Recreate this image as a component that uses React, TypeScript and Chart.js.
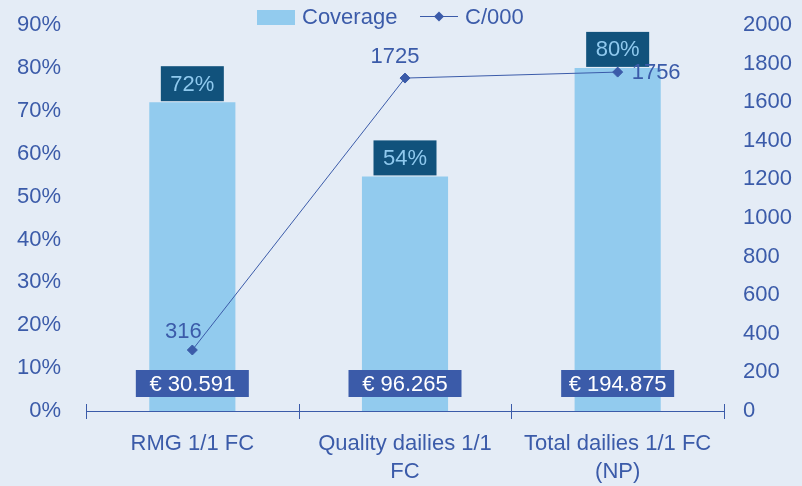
import React, { useEffect, useRef } from "react";
import { Chart, registerables } from "chart.js";

Chart.register(...registerables);

const categories: (string | string[])[] = [
  "RMG 1/1 FC",
  ["Quality dailies 1/1", "FC"],
  ["Total dailies 1/1 FC", "(NP)"],
];
const coverage = [0.72, 0.547, 0.80];
const coverageLabels = ["72%", "54%", "80%"];
const costPer000 = [316, 1725, 1756];
const euroLabels = ["€ 30.591", "€ 96.265", "€ 194.875"];
const pctTicks = [0, 0.1, 0.2, 0.3, 0.4, 0.5, 0.6, 0.7, 0.8, 0.9];
const rightTicks = [0, 200, 400, 600, 800, 1000, 1200, 1400, 1600, 1800, 2000];
const linePlacement = ["above-left", "above", "right"];

const BG = "#e4ecf6";
const BLUE = "#3b5ba9";
const BAR = "#92cbee";
const TEAL = "#11527c";
const FONT = "'Liberation Sans', Arial, sans-serif";
const FS = 22;

function zeroPad(s: any) {
  s.paddingTop = 0;
  s.paddingBottom = 0;
  s.paddingLeft = 0;
  s.paddingRight = 0;
}

export default function App() {
  const ref = useRef<HTMLCanvasElement | null>(null);

  useEffect(() => {
    document.body.style.margin = "0";
    document.body.style.background = BG;
    const canvas = ref.current!;

    const overlay = {
      id: "overlay",
      afterDraw(chart: any) {
        const ctx = chart.ctx as CanvasRenderingContext2D;
        const area = chart.chartArea;
        ctx.save();
        const yAxis = area.bottom;
        ctx.strokeStyle = BLUE;
        ctx.lineWidth = 1;
        ctx.beginPath();
        ctx.moveTo(area.left, yAxis + 0.5);
        ctx.lineTo(area.right, yAxis + 0.5);
        const n = categories.length;
        for (let i = 0; i <= n; i++) {
          const px = Math.round(area.left + ((area.right - area.left) * i) / n) + 0.5;
          ctx.moveTo(px, yAxis - 7);
          ctx.lineTo(px, yAxis + 8);
        }
        ctx.stroke();

        const barMeta = chart.getDatasetMeta(0);
        const lineMeta = chart.getDatasetMeta(1);
        ctx.textAlign = "center";
        ctx.textBaseline = "middle";
        barMeta.data.forEach((bar: any, i: number) => {
          const bw = 63, bh = 35;
          ctx.fillStyle = TEAL;
          ctx.fillRect(bar.x - bw / 2, bar.y - 1 - bh, bw, bh);
          ctx.fillStyle = "#8fc9ee";
          ctx.font = `${FS}px ${FONT}`;
          ctx.fillText(coverageLabels[i], bar.x, bar.y - 1 - bh / 2 + 1);
          const ew = 113, eh = 27;
          ctx.fillStyle = BLUE;
          ctx.fillRect(bar.x - ew / 2, 370, ew, eh);
          ctx.fillStyle = "#ffffff";
          ctx.font = `${FS}px ${FONT}`;
          ctx.fillText(euroLabels[i], bar.x, 370 + eh / 2 + 1);
        });
        ctx.fillStyle = BLUE;
        ctx.font = `${FS}px ${FONT}`;
        lineMeta.data.forEach((pt: any, i: number) => {
          const p = linePlacement[i];
          if (p === "right") {
            ctx.textAlign = "left";
            ctx.fillText(String(costPer000[i]), pt.x + 14, pt.y + 1);
          } else if (p === "above-left") {
            ctx.textAlign = "center";
            ctx.fillText(String(costPer000[i]), pt.x - 9, pt.y - 18);
          } else {
            ctx.textAlign = "center";
            ctx.fillText(String(costPer000[i]), pt.x - 10, pt.y - 21);
          }
        });
        // legend
        ctx.fillStyle = BAR;
        ctx.fillRect(257, 10, 38, 15);
        ctx.fillStyle = BLUE;
        ctx.textAlign = "left";
        ctx.font = `${FS}px ${FONT}`;
        ctx.fillText("Coverage", 302, 18);
        ctx.strokeStyle = BLUE;
        ctx.beginPath();
        ctx.moveTo(420, 16.5);
        ctx.lineTo(458, 16.5);
        ctx.stroke();
        ctx.beginPath();
        ctx.moveTo(439, 11.5);
        ctx.lineTo(444, 16.5);
        ctx.lineTo(439, 21.5);
        ctx.lineTo(434, 16.5);
        ctx.closePath();
        ctx.fill();
        ctx.fillText("C/000", 465, 18);
        ctx.restore();
      },
    };

    const chart = new Chart(canvas, {
      data: {
        labels: categories,
        datasets: [
          {
            type: "bar",
            label: "Coverage",
            data: coverage,
            backgroundColor: BAR,
            yAxisID: "y",
            categoryPercentage: 1,
            barPercentage: 0.405,
            order: 2,
          },
          {
            type: "line",
            label: "C/000",
            data: costPer000,
            borderColor: BLUE,
            backgroundColor: BLUE,
            borderWidth: 1,
            pointStyle: "rectRot",
            pointRadius: 5,
            pointHoverRadius: 5,
            yAxisID: "yR",
            order: 1,
          },
        ],
      } as any,
      options: {
        animation: false,
        responsive: false,
        maintainAspectRatio: false,
        events: [],
        layout: { padding: { top: 25, left: 0, right: 0, bottom: 0 } },
        plugins: { legend: { display: false }, tooltip: { enabled: false } },
        scales: {
          x: {
            grid: { display: false, drawTicks: false },
            border: { display: false },
            ticks: {
              color: BLUE,
              font: { family: FONT, size: FS, lineHeight: 1.27 },
              padding: 19,
              maxRotation: 0,
              autoSkip: false,
            },
            afterFit(s: any) { s.height = 75; zeroPad(s); },
          },
          y: {
            position: "left",
            min: 0,
            max: 0.9,
            grid: { display: false, drawTicks: false },
            border: { display: false },
            afterBuildTicks(s: any) { s.ticks = pctTicks.map((v) => ({ value: v })); },
            ticks: {
              color: BLUE,
              font: { family: FONT, size: FS },
              padding: 25,
              callback: (v: any) => Math.round(Number(v) * 100) + "%",
            },
            afterFit(s: any) { s.width = 86; zeroPad(s); },
          },
          yR: {
            position: "right",
            min: 0,
            max: 2000,
            grid: { display: false, drawTicks: false },
            border: { display: false },
            afterBuildTicks(s: any) { s.ticks = rightTicks.map((v) => ({ value: v })); },
            ticks: {
              color: BLUE,
              font: { family: FONT, size: FS },
              padding: 19,
              callback: (v: any) => String(v),
            },
            afterFit(s: any) { s.width = 78; zeroPad(s); },
          },
        },
      } as any,
      plugins: [overlay],
    });
    return () => chart.destroy();
  }, []);

  return (
    <div style={{ width: 802, height: 486, background: BG }}>
      <canvas ref={ref} width={802} height={486} style={{ display: "block" }} />
    </div>
  );
}
